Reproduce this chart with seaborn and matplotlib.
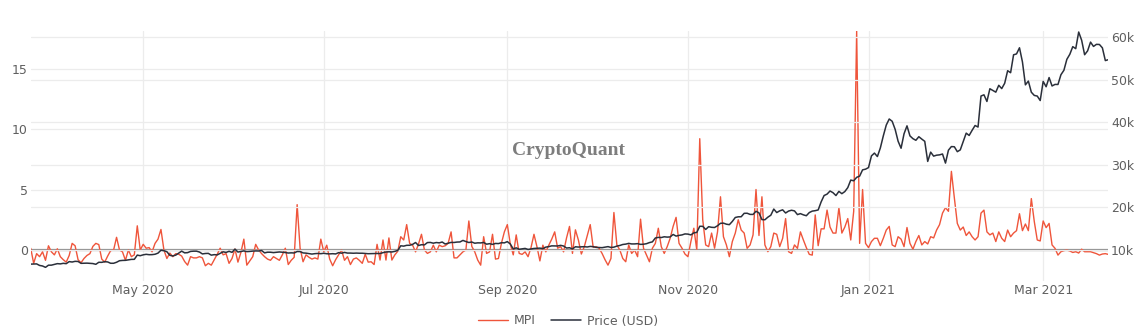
import numpy as np
import pandas as pd
import matplotlib
matplotlib.use("Agg")
import matplotlib.pyplot as plt
import seaborn as sns

# ---------------- data (daily, 2020-03-24 .. 2021-03-23) ----------------
start_date = "2020-03-24"

mpi_2020_03 = [0.15, -1.1, -0.3, -0.55, -0.15, -0.85, 0.35, -0.15]
mpi_2020_04 = [-0.4, 0.1, -0.55, -0.8, -1.0, -0.45, 0.55, 0.35, -0.8, -1.05,
               -0.7, -0.45, -0.3, 0.3, 0.55, 0.45, -0.75, -1.0, -0.5, -0.05,
               0.0, 1.05, 0.0, -0.15, -0.85, 0.0, -0.55, -0.4, 2.0, 0.0]
mpi_2020_05 = [0.47, 0.15, 0.2, -0.15, 0.55, 0.9, 1.7, 0.0, -0.7, -0.25,
               -0.55, -0.3, -0.35, -0.5, -0.95, -1.25, -0.55, -0.65, -0.65, -0.55,
               -0.65, -1.3, -1.1, -1.25, -0.8, -0.35, 0.15, -0.4, -0.3, -1.1, -0.7]
mpi_2020_06 = [0.08, -1.0, -0.2, 0.9, -1.25, -0.9, -0.55, 0.47, 0.0, -0.3,
               -0.55, -0.75, -0.85, -0.55, -0.7, -0.85, -0.4, 0.15, -1.2, -0.85,
               -0.6, 3.75, 0.15, -0.97, -0.4, -0.6, -0.75, -0.65, -0.75, 0.9]
mpi_2020_07 = [-0.15, 0.4, -0.75, -1.3, -0.8, -0.4, 0.0, -0.85, -0.55, -1.2,
               -0.75, -0.65, -0.85, -1.1, -0.35, -1.0, -0.97, -1.2, 0.47, -0.83,
               0.83, -0.83, 1.0, -0.83, -0.4, -0.1, 1.1, 0.83, 2.1, 0.55, 0.4]
mpi_2020_08 = [-0.15, 0.5, 1.3, 0.0, -0.28, -0.15, 0.4, -0.15, 0.4, 0.28,
               0.35, 0.55, 1.5, -0.65, -0.65, -0.4, -0.15, 0.0, 2.4, 0.3,
               -0.15, -0.83, -1.25, 1.1, -0.28, -0.15, 1.3, -0.75, -0.7, 0.55, 1.5]
mpi_2020_09 = [2.1, 0.5, -0.4, 1.25, -0.28, -0.36, -0.15, -0.55, 0.2, 1.3,
               0.28, -0.9, 0.4, -0.15, 0.4, 0.9, 1.5, 0.15, 0.28, -0.15,
               1.0, 1.95, -0.28, 1.67, 0.83, -0.33, 0.28, 1.2, 2.1, 0.22]
mpi_2020_10 = [0.28, 0.15, -0.28, -0.8, -1.25, -0.7, 3.1, 0.42, 0.0, -0.7,
               -0.97, 0.42, -0.28, 0.0, -0.55, 2.55, 0.15, -0.42, -0.97, 0.15,
               0.55, 1.8, 0.28, -0.28, 0.28, 0.97, 1.95, 2.7, 0.55, 0.15, -0.33]
mpi_2020_11 = [-0.55, 0.7, 1.8, 0.0, 9.2, 2.5, 0.42, 0.28, 1.4, 0.15,
               1.5, 4.4, 1.1, 0.42, -0.55, 0.7, 1.4, 2.5, 1.65, 1.4,
               0.14, 0.42, 1.25, 5.0, 1.2, 4.4, 0.42, -0.14, 0.28, 1.4]
mpi_2020_12 = [1.3, 0.28, 0.97, 2.6, -0.14, -0.28, 0.42, 0.14, 1.5, 0.83,
               0.2, -0.36, -0.42, 2.9, 0.36, 1.75, 1.75, 3.3, 1.9, 1.4,
               1.4, 3.5, 1.4, 1.9, 2.6, 0.83, 3.2, 18.1, 0.55, 5.0, 0.55]
mpi_2021_01 = [0.2, 0.7, 0.97, 0.97, 0.36, 0.97, 1.65, 1.95, 0.42, 0.28,
               1.1, 0.9, 0.28, 1.86, 0.55, 0.07, 0.7, 1.2, 0.42, 0.7,
               0.5, 1.1, 1.0, 1.65, 2.1, 3.05, 3.5, 3.2, 6.5, 4.3, 2.2]
mpi_2021_02 = [1.65, 1.9, 1.2, 1.5, 1.1, 0.83, 1.1, 3.05, 3.3, 1.5,
               1.25, 1.4, 0.7, 1.5, 0.97, 0.7, 1.65, 1.1, 1.4, 1.6,
               3.0, 1.6, 2.15, 1.6, 4.25, 2.35, 0.83, 0.75]
mpi_2021_03 = [2.4, 1.85, 2.2, 0.42, 0.14, -0.42, -0.14, -0.05, 0.0, -0.08,
               -0.2, -0.14, -0.25, 0.07, -0.14, -0.14, -0.14, -0.22, -0.3, -0.42,
               -0.33, -0.3, -0.36]

price_2020_03 = [6681, 6716, 6734, 6370, 6242, 5922, 6430, 6438]
price_2020_04 = [6607, 6793, 6733, 6868, 6791, 7271, 7176, 7335, 7303, 6866,
                 6880, 6913, 6864, 6813, 6637, 7113, 7097, 7258, 7189, 6882,
                 6880, 7118, 7482, 7550, 7570, 7679, 7795, 7807, 8801, 8658]
price_2020_05 = [8864, 8988, 8897, 8912, 9003, 9268, 9951, 9842, 9593, 8756,
                 8601, 8804, 9269, 9733, 9328, 9377, 9670, 9726, 9729, 9523,
                 9081, 9182, 9209, 8790, 8907, 8844, 9205, 9575, 9427, 9697, 9448]
price_2020_06 = [10202, 9518, 9666, 9789, 9621, 9666, 9746, 9785, 9770, 9879,
                 9321, 9480, 9475, 9386, 9450, 9538, 9480, 9411, 9288, 9332,
                 9303, 9648, 9629, 9313, 9264, 9162, 9045, 9143, 9190, 9137]
price_2020_07 = [9228, 9123, 9087, 9133, 9073, 9375, 9252, 9428, 9277, 9278,
                 9240, 9276, 9243, 9243, 9192, 9132, 9151, 9159, 9185, 9164,
                 9374, 9525, 9581, 9536, 9677, 9905, 10990, 10912, 11100, 11111, 11323]
price_2020_08 = [11759, 11053, 11246, 11205, 11747, 11779, 11601, 11754, 11675, 11878,
                 11410, 11584, 11784, 11768, 11865, 11892, 12254, 11991, 11758, 11878,
                 11592, 11681, 11664, 11774, 11366, 11488, 11323, 11542, 11506, 11711, 11680]
price_2020_09 = [11970, 11414, 10245, 10511, 10169, 10280, 10370, 10131, 10242, 10364,
                 10400, 10442, 10323, 10680, 10796, 10974, 10948, 10944, 11094, 10938,
                 10462, 10538, 10246, 10760, 10692, 10750, 10775, 10709, 10844, 10784]
price_2020_10 = [10619, 10575, 10549, 10669, 10793, 10604, 10668, 10915, 11064, 11296,
                 11384, 11555, 11425, 11429, 11495, 11323, 11358, 11483, 11742, 11916,
                 12823, 12965, 12931, 13108, 13031, 13075, 13654, 13271, 13437, 13546, 13780]
price_2020_11 = [13737, 13550, 14030, 14133, 15579, 15565, 14833, 15479, 15332, 15290,
                 15701, 16276, 16317, 16068, 15955, 16716, 17645, 17804, 17817, 18622,
                 18642, 18370, 18364, 19107, 18732, 17150, 17108, 17717, 18177, 19625]
price_2020_12 = [18802, 19201, 19445, 18699, 19154, 19345, 19191, 18321, 18553, 18264,
                 18058, 18803, 19142, 19246, 19417, 21310, 22805, 23137, 23869, 23477,
                 22803, 23783, 23241, 23735, 24664, 26437, 26272, 27084, 27362, 28841, 29002]
price_2021_01 = [29374, 32127, 32782, 31971, 33992, 36824, 39371, 40797, 40254, 38356,
                 35566, 33922, 37316, 39187, 36825, 36178, 35792, 36630, 36069, 35548,
                 30825, 33005, 32068, 32289, 32366, 32569, 30432, 33467, 34316, 34269, 33115]
price_2021_02 = [33537, 35510, 37472, 36926, 38144, 39266, 38903, 46196, 46481, 44918,
                 47909, 47504, 47105, 48718, 47945, 49199, 52149, 51679, 55888, 56100,
                 57539, 54207, 48825, 49705, 47093, 46339, 46188, 45137]
price_2021_03 = [49632, 48378, 50538, 48561, 48927, 48912, 51206, 52246, 54824, 56008,
                 57805, 57332, 61243, 59302, 55907, 56804, 58870, 57858, 58346, 58313,
                 57523, 54529, 54738]

x_tick_dates = ["2020-05-01", "2020-07-01", "2020-09-01", "2020-11-01", "2021-01-01", "2021-03-01"]
x_tick_labels = ["May 2020", "Jul 2020", "Sep 2020", "Nov 2020", "Jan 2021", "Mar 2021"]
left_ticks = [0, 5, 10, 15]
right_ticks = [10000, 20000, 30000, 40000, 50000, 60000]
right_tick_labels = ["10k", "20k", "30k", "40k", "50k", "60k"]
series_names = ["MPI", "Price (USD)"]

# ---------------- build frame ----------------
mpi = sum([mpi_2020_03, mpi_2020_04, mpi_2020_05, mpi_2020_06, mpi_2020_07, mpi_2020_08,
           mpi_2020_09, mpi_2020_10, mpi_2020_11, mpi_2020_12, mpi_2021_01, mpi_2021_02,
           mpi_2021_03], [])
price = sum([price_2020_03, price_2020_04, price_2020_05, price_2020_06, price_2020_07,
             price_2020_08, price_2020_09, price_2020_10, price_2020_11, price_2020_12,
             price_2021_01, price_2021_02, price_2021_03], [])
dates = pd.date_range(start_date, periods=len(mpi), freq="D")
df = pd.DataFrame({"date": dates, "mpi": mpi, "price": price[:len(mpi)]})

# ---------------- style ----------------
sns.set_theme(style="white")
plt.rcParams["font.family"] = ["DejaVu Sans"]

RED = "#EF553B"
DARK = "#2a2f3a"
GRID = "#ececec"
TICK = "#5f5f5f"

W, H = 1139, 336
fig = plt.figure(figsize=(W / 100, H / 100), dpi=100)
ax = fig.add_axes([30.7 / W, 55 / H, (1108.3 - 30.7) / W, 250 / H])
ax2 = ax.twinx()

sns.lineplot(data=df, x="date", y="mpi", ax=ax, color=RED, linewidth=1.0, label=series_names[0], legend=False)
sns.lineplot(data=df, x="date", y="price", ax=ax2, color=DARK, linewidth=1.1, label=series_names[1], legend=False)

ax.set_xlim(df["date"].iloc[0], df["date"].iloc[-1])
ax.set_ylim(-2.56, 18.1)
ax2.set_ylim(2713, 61483)

ax.set_xticks(pd.to_datetime(x_tick_dates))
ax.set_xticklabels(x_tick_labels)
ax.set_yticks(left_ticks)
ax.set_yticklabels([str(t) for t in left_ticks])
ax2.set_yticks(right_ticks)
ax2.set_yticklabels(right_tick_labels)

for a in (ax, ax2):
    a.set_xlabel("")
    a.set_ylabel("")
    for s in a.spines.values():
        s.set_visible(False)
    a.tick_params(length=0, labelsize=9, colors=TICK)
ax.tick_params(axis="y", pad=2)
ax.tick_params(axis="x", pad=2)
ax2.tick_params(axis="y", pad=2)

ax.grid(True, color=GRID, linewidth=0.9)
ax2.grid(True, axis="y", color=GRID, linewidth=0.9)
ax.set_axisbelow(True)
ax2.set_axisbelow(True)
ax.axhline(0, color="#8c8c8c", linewidth=1.6, zorder=1.5)

# watermark
fig.text(568.5 / W, 1 - 155 / H, "CryptoQuant", ha="center", va="baseline",
         fontsize=14, fontweight="bold", family=["Liberation Serif", "DejaVu Serif"],
         color="#7d7d7d")

# legend
h1 = ax.get_lines()[0]
h2 = ax2.get_lines()[0]
fig.legend([h1, h2], series_names, loc="center", bbox_to_anchor=(568 / W, 1 - 321 / H),
           ncol=2, frameon=False, fontsize=9, handlelength=2.4, columnspacing=1.2,
           handletextpad=0.5, labelcolor=TICK)

fig.savefig("out.png", dpi=100)
